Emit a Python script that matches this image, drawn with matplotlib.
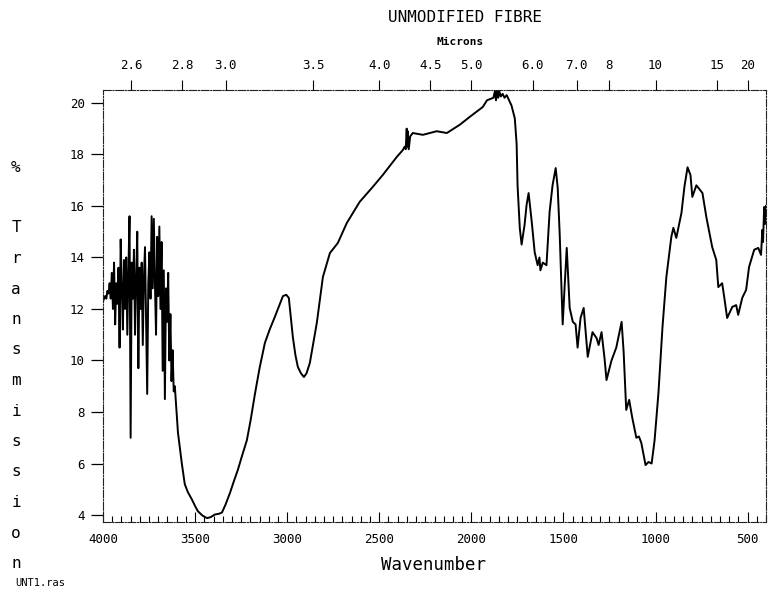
import numpy as np
import matplotlib.pyplot as plt

# noisy O-H region (cm-1 / %T)
noisy_wn = [4000, 3994, 3988, 3982, 3976, 3970, 3964, 3958, 3952, 3946,
            3940, 3934, 3928, 3922, 3916, 3910, 3904, 3898, 3892, 3886,
            3880, 3874, 3868, 3862, 3856, 3850, 3844, 3838, 3832, 3826,
            3820, 3814, 3808, 3802, 3796, 3790, 3784, 3778, 3772, 3766,
            3760, 3754, 3748, 3742, 3736, 3730, 3724, 3718, 3712, 3706,
            3700, 3694, 3688, 3682, 3676, 3670, 3664, 3658, 3652, 3646,
            3640, 3634, 3628, 3622, 3616, 3610]
noisy_t = [12.3, 12.4, 12.5, 12.4, 12.7, 12.6, 13.0, 12.4, 13.4, 12.0,
           13.8, 11.4, 13.0, 12.2, 13.6, 10.5, 14.7, 12.8, 11.2, 13.9,
           12.0, 14.0, 11.0, 13.5, 15.6, 7.0, 13.8, 12.4, 14.3, 11.0,
           13.2, 15.0, 9.7, 13.6, 12.0, 13.8, 10.6, 13.2, 14.4, 11.5,
           8.7, 13.0, 14.2, 12.4, 15.6, 12.8, 15.5, 13.0, 11.0, 14.8,
           12.5, 15.2, 12.0, 14.6, 9.6, 13.5, 8.5, 12.8, 11.5, 13.4,
           10.0, 11.8, 9.2, 10.4, 8.8, 9.0]

# rest of the spectrum
band_wn = [3593, 3572, 3556, 3540, 3517, 3500, 3485, 3460, 3435, 3415,
           3393, 3370, 3354, 3335, 3311, 3290, 3268, 3245, 3219, 3198,
           3175, 3150, 3121, 3095, 3067, 3045, 3023, 3005, 2991, 2969,
           2955, 2942, 2925, 2909, 2895, 2877, 2860, 2839, 2806, 2768,
           2725, 2676, 2606, 2535, 2481, 2405, 2372,
           2362, 2356, 2351, 2348, 2345, 2340, 2332, 2318, 2263, 2188,
           2133, 2063, 2008, 1938, 1915, 1880, 1872, 1866, 1860, 1854,
           1848, 1840, 1830, 1820, 1808, 1782, 1764, 1754, 1749, 1737,
           1727, 1711, 1700, 1689, 1672, 1656, 1640, 1630, 1625, 1612,
           1592, 1575, 1559, 1542, 1531, 1520, 1504, 1493, 1482, 1466,
           1449, 1434, 1423, 1407, 1390, 1368, 1342, 1320, 1309, 1293,
           1277, 1266, 1239, 1213, 1184, 1173, 1159, 1143, 1126, 1104,
           1090, 1077, 1054, 1038, 1021, 1005, 984, 962, 941, 914,
           903, 887, 859, 843, 826, 810, 800, 778, 745, 724,
           692, 670, 659, 638, 627, 611, 583, 562, 551, 529,
           508, 492, 464, 442, 427, 420, 416, 410, 405, 400]
band_t = [7.2, 6.0, 5.2, 4.9, 4.6, 4.35, 4.15, 3.98, 3.88, 3.92,
          4.02, 4.05, 4.1, 4.4, 4.85, 5.3, 5.75, 6.3, 6.9, 7.7,
          8.7, 9.7, 10.68, 11.2, 11.69, 12.1, 12.5, 12.55, 12.43, 10.9,
          10.2, 9.75, 9.5, 9.36, 9.5, 9.9, 10.6, 11.46, 13.24, 14.17,
          14.56, 15.34, 16.16, 16.74, 17.2, 17.9, 18.17,
          18.3, 18.2, 19.0, 18.3, 18.9, 18.2, 18.7, 18.83, 18.76, 18.9,
          18.83, 19.15, 19.46, 19.84, 20.1, 20.2, 20.45, 20.1, 20.5, 20.2,
          20.45, 20.25, 20.35, 20.2, 20.3, 19.9, 19.4, 18.4, 16.8, 15.15,
          14.5, 15.26, 16.04, 16.5, 15.38, 14.2, 13.7, 14.0, 13.5, 13.8,
          13.7, 15.77, 16.8, 17.47, 16.7, 14.87, 11.4, 12.93, 14.37, 12.04,
          11.5, 11.4, 10.5, 11.65, 12.04, 10.14, 11.1, 10.87, 10.6, 11.1,
          10.1, 9.24, 10.0, 10.5, 11.5, 10.33, 8.08, 8.47, 7.77, 7.0,
          7.05, 6.8, 5.94, 6.06, 6.0, 6.9, 8.74, 11.3, 13.24, 14.8,
          15.15, 14.76, 15.73, 16.74, 17.5, 17.2, 16.35, 16.8, 16.5, 15.57,
          14.4, 13.9, 12.85, 13.0, 12.47, 11.65, 12.08, 12.15, 11.77, 12.43,
          12.74, 13.63, 14.3, 14.37, 14.1, 15.07, 14.6, 15.96, 15.3, 16.0]

wavenumber = np.array(noisy_wn + band_wn)
transmission = np.array(noisy_t + band_t)

x_major = [4000, 3500, 3000, 2500, 2000, 1500, 1000, 500]
y_major = [4, 6, 8, 10, 12, 14, 16, 18, 20]
microns = [2.6, 2.8, 3.0, 3.5, 4.0, 4.5, 5.0, 6.0, 7.0, 8, 10, 15, 20]
micron_labels = ['2.6', '2.8', '3.0', '3.5', '4.0', '4.5', '5.0', '6.0',
                 '7.0', '8', '10', '15', '20']
ylabel_chars = ['%', '', 'T', 'r', 'a', 'n', 's', 'm', 'i', 's', 's', 'i', 'o', 'n']

mono = 'DejaVu Sans Mono'
plt.rcParams['font.family'] = mono

fig = plt.figure(figsize=(7.77, 5.94), dpi=100)
ax = fig.add_axes([103 / 777, 1 - 522 / 594, 663 / 777, 432 / 594])
ax.plot(wavenumber, transmission, color='black', lw=1.4)
ax.set_xlim(4000, 400)
ax.set_ylim(3.73, 20.5)

frame_style = (0, (7, 1.5, 1, 1.5))
for s in ax.spines.values():
    s.set_linestyle(frame_style)
    s.set_linewidth(0.8)
    s.set_color('#222222')

ax.set_xticks(x_major)
ax.set_xticks([w for w in range(4000, 399, -50) if w % 500], minor=True)
ax.tick_params(axis='x', which='major', direction='in', length=7, width=0.8,
               pad=8, labelsize=9)
ax.tick_params(axis='x', which='minor', direction='in', length=4, width=0.8)
ax.set_yticks(y_major)
ax.tick_params(axis='y', direction='out', length=9, width=0.9, pad=4,
               labelsize=9)

# micron scale along the top
ax_top = ax.twiny()
ax_top.set_xlim(ax.get_xlim())
ax_top.set_xticks([1e4 / m for m in microns])
ax_top.set_xticklabels(micron_labels)
ax_top.tick_params(axis='x', direction='out', length=7, width=0.8, pad=6,
                   labelsize=9)
for s in ax_top.spines.values():
    s.set_visible(False)

fig.text(465 / 777, 1 - 18 / 594, 'UNMODIFIED FIBRE', ha='center', va='center',
         fontsize=11.5)
fig.text(460 / 777, 1 - 42 / 594, 'Microns', ha='center', va='center',
         fontsize=8, fontweight='bold')
fig.text(434 / 777, 1 - 565 / 594, 'Wavenumber', ha='center', va='center',
         fontsize=12.5)
fig.text(15 / 777, 1 - 583 / 594, 'UNT1.ras', ha='left', va='center',
         fontsize=7.5)

for i, ch in enumerate(ylabel_chars):
    if ch:
        fig.text(16 / 777, 1 - (167 + 30.5 * i) / 594, ch, ha='center',
                 va='center', fontsize=11.5)

fig.savefig('out.png', dpi=100)
